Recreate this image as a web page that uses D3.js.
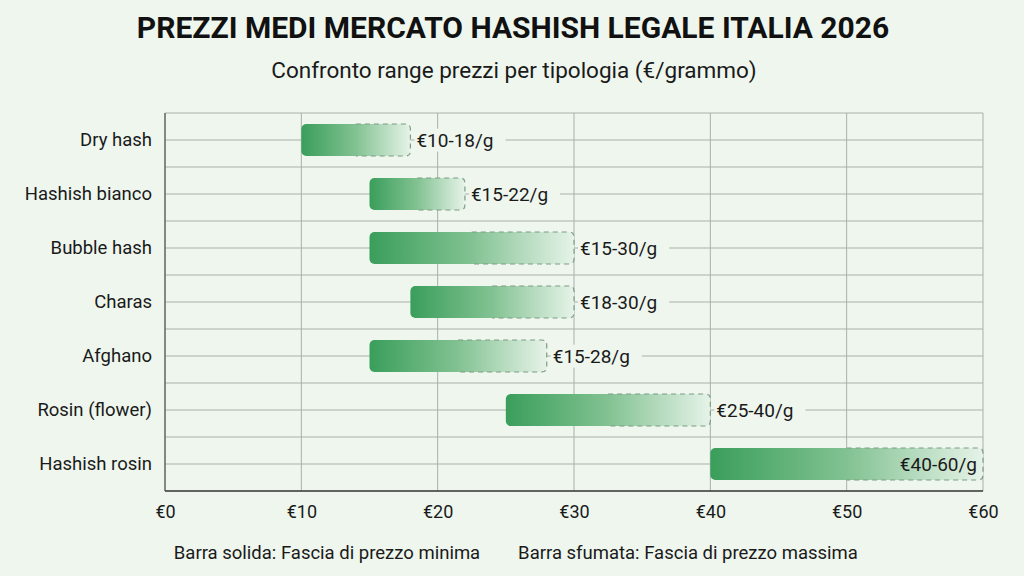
<!DOCTYPE html>
<html>
<head>
<meta charset="utf-8">
<script src="https://cdn.jsdelivr.net/npm/d3@7"></script>
<style>
  body { margin: 0; background: #eef6ee; }
  svg { display: block; font-family: Roboto, "Noto Sans", sans-serif; }
</style>
</head>
<body>
<div id="chart"></div>
<script>
// data
var categories = ["Dry hash", "Hashish bianco", "Bubble hash", "Charas", "Afghano", "Rosin (flower)", "Hashish rosin"];
var minPrice = [10, 15, 15, 18, 15, 25, 40];
var maxPrice = [18, 22, 30, 30, 28, 40, 60];
var xTicks = [0, 10, 20, 30, 40, 50, 60];
var legendLabels = ["Barra solida: Fascia di prezzo minima", "Barra sfumata: Fascia di prezzo massima"];

var W = 1024, H = 576;
var margin = {top: 113, right: 41, bottom: 85, left: 165},
    width = W - margin.left - margin.right,
    height = H - margin.top - margin.bottom;

var svg = d3.select("#chart").append("svg")
    .attr("width", W)
    .attr("height", H);

svg.append("rect").attr("width", W).attr("height", H).attr("fill", "#eef6ee");

// gradient for bars
var grad = svg.append("defs").append("linearGradient")
    .attr("id", "barGrad")
    .attr("x1", "0%").attr("x2", "100%").attr("y1", "0%").attr("y2", "0%");
grad.append("stop").attr("offset", "0%").attr("stop-color", "#3a9e5b");
grad.append("stop").attr("offset", "50%").attr("stop-color", "#82c292");
grad.append("stop").attr("offset", "100%").attr("stop-color", "#e6f3e8");

// titles
svg.append("text")
    .attr("x", 513).attr("y", 38)
    .attr("text-anchor", "middle")
    .style("font-size", "30px").style("font-weight", "bold").style("fill", "#111")
    .text("PREZZI MEDI MERCATO HASHISH LEGALE ITALIA 2026");
svg.append("text")
    .attr("x", 514).attr("y", 78)
    .attr("text-anchor", "middle")
    .style("font-size", "22.5px").style("fill", "#1a1a1a")
    .text("Confronto range prezzi per tipologia (€/grammo)");

var g = svg.append("g")
    .attr("transform", "translate(" + margin.left + "," + margin.top + ")");

// scales
var x = d3.scaleLinear().domain([0, 60]).range([0, width]);
var y = d3.scaleBand().domain(categories).range([0, height]).padding(0);
var barH = 32;

// grid
var hLines = [];
categories.forEach(function(c, i) {
    hLines.push(y(c));
    hLines.push(y(c) + y.bandwidth() / 2);
});
g.selectAll(".hgrid").data(hLines).enter().append("line")
    .attr("x1", 0).attr("x2", width)
    .attr("y1", function(d) { return d; }).attr("y2", function(d) { return d; })
    .attr("stroke", "#a9b0a9").attr("stroke-width", 1);
g.selectAll(".vgrid").data(xTicks).enter().append("line")
    .attr("x1", function(d) { return x(d); }).attr("x2", function(d) { return x(d); })
    .attr("y1", 0).attr("y2", height)
    .attr("stroke", "#a9b0a9").attr("stroke-width", 1);

// bars
var rows = categories.map(function(c, i) {
    return {cat: c, lo: minPrice[i], hi: maxPrice[i]};
});

var bar = g.selectAll(".bar").data(rows).enter().append("g").attr("class", "bar");

bar.append("rect")
    .attr("x", function(d) { return x(d.lo); })
    .attr("y", function(d) { return y(d.cat) + (y.bandwidth() - barH) / 2; })
    .attr("width", function(d) { return x(d.hi) - x(d.lo); })
    .attr("height", barH)
    .attr("rx", 5)
    .attr("fill", "url(#barGrad)");

// dashed outline on the faded part
bar.append("path")
    .attr("d", function(d) {
        var x0 = x(d.lo), x1 = x(d.hi), r = 5;
        var y0 = y(d.cat) + (y.bandwidth() - barH) / 2, y1 = y0 + barH;
        var xm = x0 + (x1 - x0) * 0.5;
        return "M" + xm + "," + y0 + "H" + (x1 - r) + "Q" + x1 + "," + y0 + " " + x1 + "," + (y0 + r) +
            "V" + (y1 - r) + "Q" + x1 + "," + y1 + " " + (x1 - r) + "," + y1 + "H" + xm;
    })
    .attr("fill", "none")
    .attr("stroke", "#7d9c84")
    .attr("stroke-width", 1.2)
    .attr("stroke-dasharray", "5,4");

// value labels
bar.each(function(d) {
    var sel = d3.select(this);
    var inside = d.hi >= x.domain()[1];
    var cy = y(d.cat) + y.bandwidth() / 2;
    var t = sel.append("text")
        .attr("x", inside ? x(d.hi) - 6 : x(d.hi) + 6)
        .attr("y", cy)
        .attr("dy", "0.35em")
        .attr("text-anchor", inside ? "end" : "start")
        .style("font-size", "19px").style("fill", "#1a1a1a")
        .text("€" + d.lo + "-" + d.hi + "/g");
    if (!inside) {
        var bb = t.node().getBBox();
        sel.insert("rect", "text")
            .attr("x", bb.x - 2).attr("y", bb.y)
            .attr("width", bb.width + 14).attr("height", bb.height)
            .attr("fill", "#eef6ee");
    }
});

// axes
var xAxis = g.append("g")
    .attr("transform", "translate(0," + height + ")")
    .call(d3.axisBottom(x).tickValues(xTicks).tickSize(0).tickPadding(14)
        .tickFormat(function(d) { return "€" + d; }));
xAxis.select(".domain").remove();
xAxis.selectAll("text").style("font-size", "18px").style("fill", "#1a1a1a")
    .style("font-family", "Roboto, sans-serif");

var yAxis = g.append("g")
    .call(d3.axisLeft(y).tickSize(0).tickPadding(13));
yAxis.select(".domain").remove();
yAxis.selectAll("text").style("font-size", "18.5px").style("fill", "#1a1a1a")
    .style("font-family", "Roboto, sans-serif");

g.append("line").attr("x1", 0).attr("x2", width).attr("y1", height).attr("y2", height)
    .attr("stroke", "#333").attr("stroke-width", 1.5);
g.append("line").attr("x1", 0).attr("x2", 0).attr("y1", 0).attr("y2", height)
    .attr("stroke", "#555").attr("stroke-width", 1.2);

// legend text
svg.selectAll(".legend").data(legendLabels).enter().append("text")
    .attr("x", function(d, i) { return i === 0 ? 327 : 688; })
    .attr("y", 559)
    .attr("text-anchor", "middle")
    .style("font-size", "18.5px").style("fill", "#1a1a1a")
    .text(function(d) { return d; });
</script>
</body>
</html>
